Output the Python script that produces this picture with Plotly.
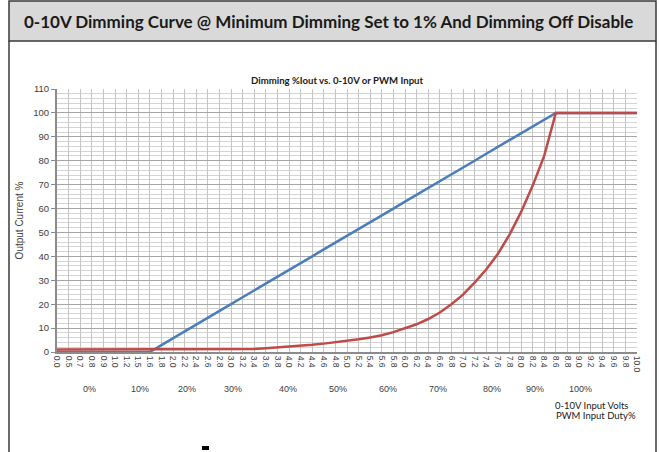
import plotly.graph_objects as go

# ---- data ----
volts = ["0.0", "0.5", "0.7", "0.8", "0.9", "1.0", "1.2", "1.5", "1.6", "1.8",
         "2.0", "2.2", "2.4", "2.6", "2.8", "3.0", "3.2", "3.4", "3.6", "3.8",
         "4.0", "4.2", "4.4", "4.6", "4.8", "5.0", "5.2", "5.4", "5.6", "5.8",
         "6.0", "6.2", "6.4", "6.6", "6.8", "7.0", "7.2", "7.4", "7.6", "7.8",
         "8.0", "8.2", "8.4", "8.6", "8.8", "9.0", "9.2", "9.4", "9.6", "9.8",
         "10.0"]

linear_curve = [0, 0, 0, 0, 0, 0, 0, 0, 0, 2.9,
                5.7, 8.6, 11.4, 14.3, 17.1, 20.0, 22.9, 25.7, 28.6, 31.4,
                34.3, 37.1, 40.0, 42.9, 45.7, 48.6, 51.4, 54.3, 57.1, 60.0,
                62.9, 65.7, 68.6, 71.4, 74.3, 77.1, 80.0, 82.9, 85.7, 88.6,
                91.4, 94.3, 97.1, 100, 100, 100, 100, 100, 100, 100,
                100]

log_curve = [1, 1, 1, 1, 1, 1, 1, 1, 1, 1,
             1, 1, 1, 1, 1, 1, 1.1, 1.3, 1.6, 1.9,
             2.2, 2.6, 3.0, 3.5, 4.0, 4.6, 5.3, 6.1, 7.0, 8.3,
             9.8, 11.6, 13.8, 16.5, 20.0, 24.0, 29.0, 34.5, 41.0, 49.0,
             58.5, 69.5, 82.0, 100, 100, 100, 100, 100, 100, 100,
             100]

duty_labels = ["0%", "10%", "20%", "30%", "40%", "50%", "60%", "70%", "80%", "90%", "100%"]
duty_label_px = [89, 140, 187, 233, 288, 338, 388, 438, 492, 535, 580]

y_ticks = [0, 10, 20, 30, 40, 50, 60, 70, 80, 90, 100, 110]

header_title = "0-10V Dimming Curve @ Minimum Dimming Set to 1% And Dimming Off Disable"
chart_title = "Dimming %Iout vs. 0-10V or PWM Input"

# ---- layout geometry (pixels) ----
W, H = 659, 452
PL, PR, PT, PB = 57, 637, 89, 352


def px(x):
    return (x - PL) / (PR - PL)


def py(y):
    return (PB - y) / (PB - PT)


fig = go.Figure()
fig.add_trace(go.Scatter(x=volts, y=linear_curve, mode="lines",
                         line=dict(color="#4a7ebb", width=2.5), showlegend=False))
fig.add_trace(go.Scatter(x=volts, y=log_curve, mode="lines",
                         line=dict(color="#be4b48", width=2.5), showlegend=False))

shapes = []
# header band
shapes.append(dict(type="rect", xref="paper", yref="paper",
                   x0=px(9), x1=px(656), y0=py(1), y1=py(41),
                   fillcolor="#d9d9d9", line=dict(color="#3a3a3a", width=1.5), layer="below"))
# frame sides
shapes.append(dict(type="line", xref="paper", yref="paper",
                   x0=px(9), x1=px(9), y0=py(41), y1=py(452),
                   line=dict(color="#3a3a3a", width=1.5)))
shapes.append(dict(type="line", xref="paper", yref="paper",
                   x0=px(656), x1=px(656), y0=py(41), y1=py(452),
                   line=dict(color="#3a3a3a", width=1.5)))
# small dash at bottom
shapes.append(dict(type="rect", xref="paper", yref="paper",
                   x0=px(202), x1=px(209), y0=py(450), y1=py(446),
                   fillcolor="#000000", line=dict(width=0)))

annotations = []
annotations.append(dict(text="<b>" + header_title + "</b>", xref="paper", yref="paper",
                        x=px(328), y=py(21), showarrow=False, xanchor="center", yanchor="middle",
                        font=dict(family="Lato", size=17, color="#1a1a1a")))
annotations.append(dict(text="<b>" + chart_title + "</b>", xref="paper", yref="paper",
                        x=px(337), y=py(81), showarrow=False, xanchor="center", yanchor="middle",
                        font=dict(family="Lato", size=9.6, color="#1a1a1a")))
for t, xp in zip(duty_labels, duty_label_px):
    annotations.append(dict(text=t, xref="paper", yref="paper", x=px(xp), y=py(389),
                            showarrow=False, xanchor="center", yanchor="middle",
                            font=dict(family="Liberation Sans", size=9, color="#404040")))
annotations.append(dict(text="0-10V Input Volts", xref="paper", yref="paper",
                        x=px(591), y=py(405), showarrow=False, xanchor="center", yanchor="middle",
                        font=dict(family="Lato", size=9.5, color="#1a1a1a")))
annotations.append(dict(text="PWM Input Duty%", xref="paper", yref="paper",
                        x=px(596), y=py(415.5), showarrow=False, xanchor="center", yanchor="middle",
                        font=dict(family="Lato", size=9.5, color="#1a1a1a")))

fig.update_layout(
    width=W, height=H,
    margin=dict(l=PL, r=W - PR, t=PT, b=H - PB, pad=0),
    paper_bgcolor="white", plot_bgcolor="white",
    shapes=shapes, annotations=annotations,
    font=dict(family="Liberation Sans", color="#404040"),
)
fig.update_xaxes(
    type="category", range=[0, len(volts) - 1],
    tickangle=90, tickfont=dict(family="Liberation Sans", size=8.5, color="#404040"),
    showgrid=True, gridcolor="#c4c4c4", gridwidth=1,
    showline=True, linecolor="#8c8c8c", linewidth=2,
    ticks="", zeroline=False,
)
fig.update_yaxes(
    range=[0, 110], tickvals=y_ticks,
    tickfont=dict(family="Liberation Sans", size=9.5, color="#404040"),
    showgrid=True, gridcolor="#a6a6a6", gridwidth=1,
    minor=dict(dtick=2, showgrid=True, gridcolor="#d4d4d4", gridwidth=1),
    showline=True, linecolor="#8c8c8c", linewidth=2,
    ticks="outside", ticklen=4, tickcolor="#8c8c8c",
    zeroline=False,
    title=dict(text="Output Current %", font=dict(family="Liberation Sans", size=10, color="#404040"), standoff=8),
)

fig.write_html("out.html", config={"displayModeBar": False},
               post_script="document.body.style.margin='0';")
